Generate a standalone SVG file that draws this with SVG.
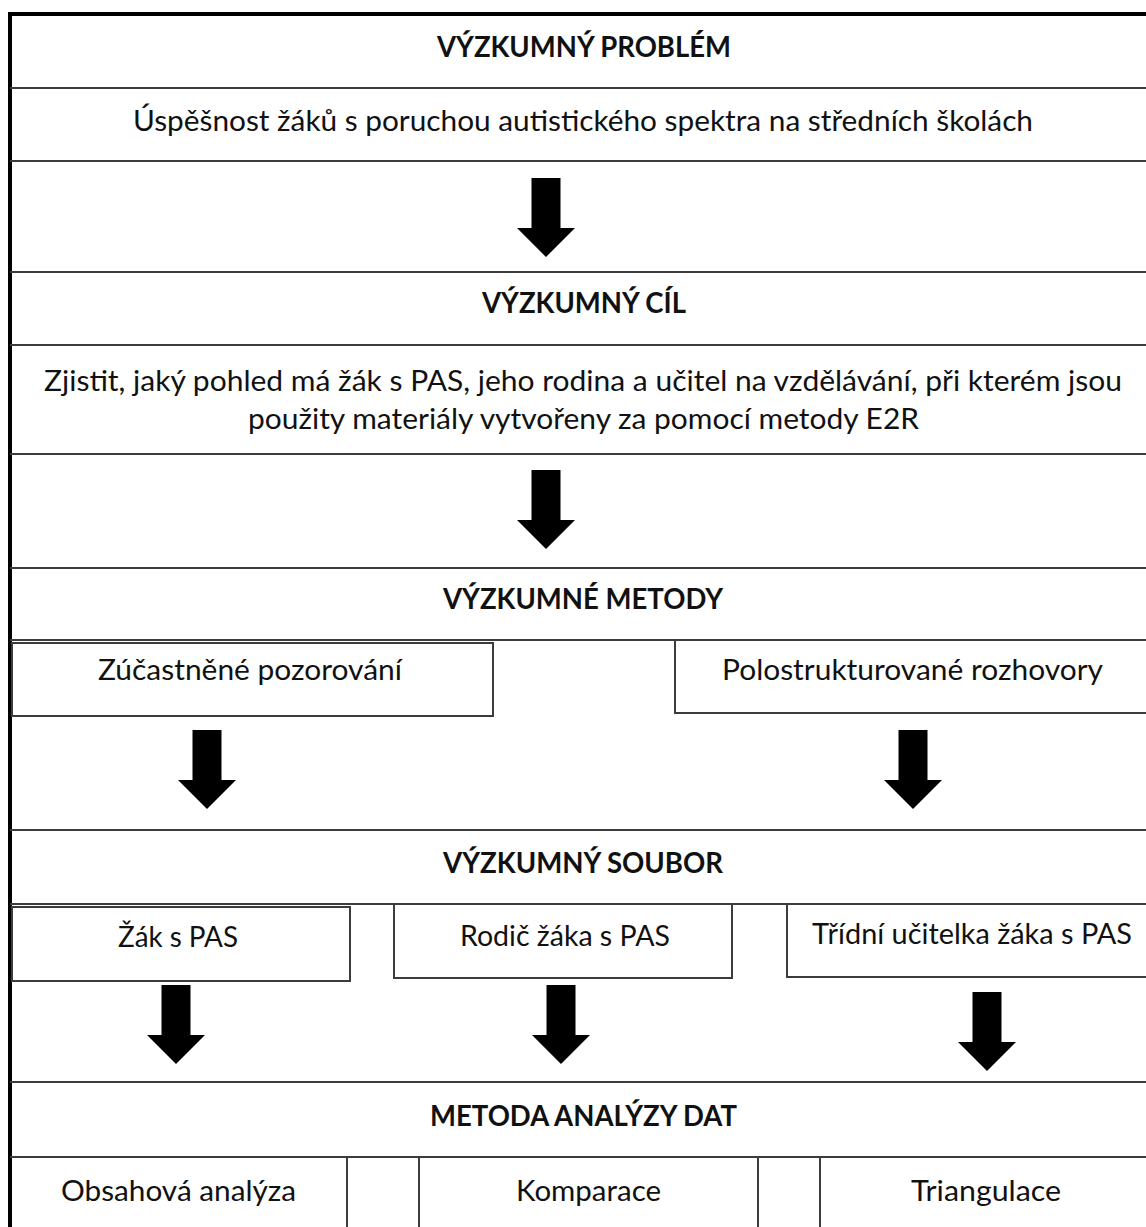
<svg xmlns="http://www.w3.org/2000/svg" width="1146" height="1227" viewBox="0 0 1146 1227">
  <style>
    .frame { fill: none; stroke: #000; stroke-width: 4; }
    .line { stroke: #3c3c3c; stroke-width: 2; fill: none; }
    .box { fill: #fff; stroke: #3c3c3c; stroke-width: 2; }
    .t { font-family: Lato, "Open Sans", "Liberation Sans", sans-serif; font-size: 29px; fill: #111; text-anchor: middle; }
    .b { font-weight: bold; }
    .arrow { fill: #000; }
  </style>
  <defs>
    <path id="arr" d="M-14.5,0 H14.5 V50 H29 L0,79 L-29,50 H-14.5 Z"/>
  </defs>
  <rect width="1146" height="1227" fill="#fff"/>
  <rect class="frame" x="10" y="14" width="1150" height="1230"/>

  <g id="row-lines">
    <line class="line" x1="10" y1="88" x2="1146" y2="88"/>
    <line class="line" x1="10" y1="161" x2="1146" y2="161"/>
    <line class="line" x1="10" y1="272" x2="1146" y2="272"/>
    <line class="line" x1="10" y1="345" x2="1146" y2="345"/>
    <line class="line" x1="10" y1="454" x2="1146" y2="454"/>
    <line class="line" x1="10" y1="568" x2="1146" y2="568"/>
    <line class="line" x1="10" y1="640" x2="1146" y2="640"/>
    <line class="line" x1="10" y1="830" x2="1146" y2="830"/>
    <line class="line" x1="10" y1="904" x2="1146" y2="904"/>
    <line class="line" x1="10" y1="1082" x2="1146" y2="1082"/>
    <line class="line" x1="10" y1="1157" x2="1146" y2="1157"/>
  </g>

  <g id="problem-title">
    <text class="t b" x="584" y="57" textLength="294" lengthAdjust="spacingAndGlyphs">VÝZKUMNÝ PROBLÉM</text>
  </g>
  <g id="problem-text">
    <text class="t" x="583" y="131" textLength="900" lengthAdjust="spacingAndGlyphs">Úspěšnost žáků s poruchou autistického spektra na středních školách</text>
  </g>
  <g id="goal-title">
    <text class="t b" x="584" y="313" textLength="204" lengthAdjust="spacingAndGlyphs">VÝZKUMNÝ CÍL</text>
  </g>
  <g id="goal-text">
    <text class="t" x="583" y="391" textLength="1078" lengthAdjust="spacingAndGlyphs">Zjistit, jaký pohled má žák s PAS, jeho rodina a učitel na vzdělávání, při kterém jsou</text>
    <text class="t" x="583.5" y="429" textLength="671" lengthAdjust="spacingAndGlyphs">použity materiály vytvořeny za pomocí metody E2R</text>
  </g>
  <g id="methods-title">
    <text class="t b" x="583" y="609" textLength="280" lengthAdjust="spacingAndGlyphs">VÝZKUMNÉ METODY</text>
  </g>
  <g id="method-observation">
    <rect class="box" x="12" y="643" width="481" height="73"/>
    <text class="t" x="250" y="680" textLength="304" lengthAdjust="spacingAndGlyphs">Zúčastněné pozorování</text>
  </g>
  <g id="method-interviews">
    <rect class="box" x="675" y="640" width="480" height="73"/>
    <text class="t" x="912.5" y="680" textLength="381" lengthAdjust="spacingAndGlyphs">Polostrukturované rozhovory</text>
  </g>
  <g id="sample-title">
    <text class="t b" x="583" y="873" textLength="280" lengthAdjust="spacingAndGlyphs">VÝZKUMNÝ SOUBOR</text>
  </g>
  <g id="sample-student">
    <rect class="box" x="12" y="907" width="338" height="74"/>
    <text class="t" x="178" y="947" textLength="120" lengthAdjust="spacingAndGlyphs">Žák s PAS</text>
  </g>
  <g id="sample-parent">
    <rect class="box" x="394" y="904" width="338" height="74"/>
    <text class="t" x="565" y="946" textLength="210" lengthAdjust="spacingAndGlyphs">Rodič žáka s PAS</text>
  </g>
  <g id="sample-teacher">
    <rect class="box" x="787" y="904" width="370" height="73"/>
    <text class="t" x="972" y="944" textLength="320" lengthAdjust="spacingAndGlyphs">Třídní učitelka žáka s PAS</text>
  </g>
  <g id="analysis-title">
    <text class="t b" x="583.5" y="1126" textLength="307" lengthAdjust="spacingAndGlyphs">METODA ANALÝZY DAT</text>
  </g>
  <g id="analysis-row">
    <line class="line" x1="347" y1="1157" x2="347" y2="1227"/>
    <line class="line" x1="419" y1="1157" x2="419" y2="1227"/>
    <line class="line" x1="758" y1="1157" x2="758" y2="1227"/>
    <line class="line" x1="820" y1="1157" x2="820" y2="1227"/>
  </g>
  <g id="analysis-content">
    <text class="t" x="178.5" y="1201" textLength="235" lengthAdjust="spacingAndGlyphs">Obsahová analýza</text>
  </g>
  <g id="analysis-comparison">
    <text class="t" x="588.5" y="1201" textLength="145" lengthAdjust="spacingAndGlyphs">Komparace</text>
  </g>
  <g id="analysis-triangulation">
    <text class="t" x="986" y="1201" textLength="150" lengthAdjust="spacingAndGlyphs">Triangulace</text>
  </g>

  <g id="connectors" class="arrow">
    <use href="#arr" x="546" y="178"/>
    <use href="#arr" x="546" y="470"/>
    <use href="#arr" x="207" y="730"/>
    <use href="#arr" x="913" y="730"/>
    <use href="#arr" x="176" y="985"/>
    <use href="#arr" x="561" y="985"/>
    <use href="#arr" x="987" y="992"/>
  </g>
</svg>
